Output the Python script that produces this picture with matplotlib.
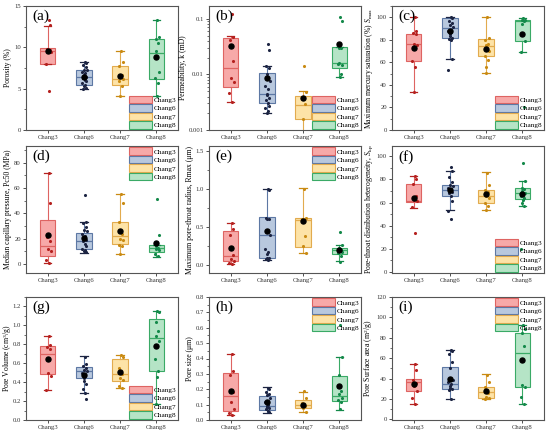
import numpy as np
import matplotlib
matplotlib.use("Agg")
import matplotlib.pyplot as plt
from matplotlib.patches import Patch
from matplotlib.ticker import AutoMinorLocator, LogLocator, NullFormatter, FormatStrFormatter

plt.rcParams['font.family'] = ['Liberation Serif', 'DejaVu Serif']
plt.rcParams['mathtext.fontset'] = 'custom'
plt.rcParams['mathtext.rm'] = 'Liberation Serif'
plt.rcParams['mathtext.it'] = 'Liberation Serif:italic'

groups = ["Chang3", "Chang6", "Chang7", "Chang8"]
face_cols = ['#F7A9A8', '#B8C8DE', '#FDE3A7', '#B5E4C6']
edge_cols = ['#DE6462', '#5D78A4', '#E2AB4E', '#3AAA66']
pt_cols = ['#B5211F', '#1C2442', '#C98A12', '#14894A']

# box stats per group: q1, median, q3, whisker low, whisker high, mean
porosity_box = [[8.0, 9.5, 9.9, 8.0, 12.6, 9.6], [5.5, 6.4, 7.2, 4.9, 8.2, 6.4],
                [5.5, 6.2, 7.7, 4.1, 9.5, 6.5], [6.2, 9.3, 11.0, 4.1, 13.3, 8.8]]
porosity_pts = [[13.3, 12.7, 9.8, 9.7, 9.5, 9.4, 8.0, 4.7],
                [8.2, 8.1, 7.9, 7.6, 7.3, 7.2, 7.0, 6.9, 6.7, 6.5, 6.4, 6.3, 6.1, 5.9, 5.7, 5.5, 5.3, 5.1, 4.9],
                [9.5, 8.2, 7.7, 6.7, 6.5, 6.2, 5.9, 5.3, 4.1],
                [13.3, 11.2, 11.0, 10.5, 9.5, 7.0, 6.3, 5.7, 4.1]]

perm_box = [[0.006, 0.013, 0.045, 0.0032, 0.05, 0.032], [0.0031, 0.0045, 0.0106, 0.0020, 0.0144, 0.0087],
            [0.0016, 0.00285, 0.0041, 0.0008, 0.005, 0.0037], [0.013, 0.0163, 0.0305, 0.0089, 0.0305, 0.035]]
perm_pts = [[0.123, 0.048, 0.0415, 0.0175, 0.0086, 0.0074, 0.0046, 0.0032],
            [0.035, 0.028, 0.0144, 0.013, 0.010, 0.0075, 0.0062, 0.0055, 0.0045, 0.0042,
             0.0038, 0.0035, 0.003, 0.0027, 0.0025, 0.0022, 0.002],
            [0.0141, 0.0048, 0.0038, 0.0029, 0.0016],
            [0.11, 0.09, 0.03, 0.03, 0.016, 0.015, 0.0155, 0.01, 0.009]]

smax_box = [[61.2, 76.7, 85.4, 33.7, 100, 73.1], [81.7, 90.1, 99.1, 63.3, 100, 88.0],
            [65.7, 74.6, 80.3, 50.4, 100, 72.2], [78.8, 97.0, 97.6, 69.3, 99, 85.0]]
smax_pts = [[100, 88, 86, 85.5, 76, 75, 61, 55.6, 33.7],
            [100, 99, 97, 95, 93, 91, 88, 87, 85, 83, 82, 81, 80, 63.3, 53],
            [100, 82, 80, 76, 75, 70, 66, 62, 56, 51],
            [99, 98, 97.5, 97, 94, 79, 69.3, 20]]

pc50_box = [[6.5, 14.5, 34.4, 0.5, 72, 23], [11.7, 18.1, 24.6, 8.5, 32.9, 20.5],
            [15.5, 21.8, 33.2, 8.3, 54.9, 26], [9.8, 13.0, 14.8, 5.7, 14.8, 17]]
pc50_pts = [[72, 48, 21, 18, 12, 10, 3.5, 0.5],
            [54.5, 33, 32, 29, 27, 26, 24, 22, 21, 20, 19, 18, 16, 14, 12, 11, 10, 9.5],
            [55, 48, 33, 24, 20, 19, 15, 14, 8.3],
            [51, 23, 14, 13, 12, 11, 8, 6]]

rmax_box = [[0.052, 0.126, 0.443, 0.022, 0.56, 0.23], [0.096, 0.396, 0.635, 0.074, 1.0, 0.448],
            [0.243, 0.596, 0.613, 0.16, 1.01, 0.574], [0.148, 0.196, 0.226, 0.052, 0.27, 0.20]]
rmax_pts = [[0.56, 0.47, 0.40, 0.13, 0.08, 0.06, 0.03, 0.02],
            [1.0, 0.99, 0.62, 0.61, 0.60, 0.40, 0.21, 0.18, 0.15, 0.10, 0.09, 0.08, 0.07],
            [1.0, 0.62, 0.60, 0.38, 0.25, 0.16],
            [0.44, 0.27, 0.23, 0.20, 0.19, 0.18, 0.16, 0.12, 0.05]]

skp_box = [[60.9, 61.5, 76.1, 55.5, 83.3, 64.2], [66.0, 71.0, 74.9, 53.4, 87.5, 70.5],
           [60.0, 66.0, 71.3, 54.0, 86.2, 67.0], [62.7, 68.0, 72.8, 57.0, 79.0, 67.0]]
skp_pts = [[83, 80, 76, 66, 62, 61, 56, 33.5],
           [90.7, 87, 82, 78, 75, 74, 73, 72, 71, 70, 69, 68, 66, 61, 53, 46],
           [86, 75, 71, 69, 66, 64, 60, 57, 54],
           [94, 79, 73, 72, 70, 68, 66, 64, 62, 60, 57, 20]]

pv_box = [[0.482, 0.694, 0.778, 0.317, 0.89, 0.64], [0.444, 0.518, 0.56, 0.285, 0.672, 0.48],
          [0.408, 0.486, 0.644, 0.338, 0.69, 0.507], [0.518, 0.866, 1.07, 0.169, 1.155, 0.78]]
pv_pts = [[0.89, 0.79, 0.77, 0.75, 0.50, 0.46, 0.32],
          [0.67, 0.59, 0.57, 0.55, 0.53, 0.52, 0.50, 0.47, 0.44, 0.41, 0.38, 0.33, 0.29, 0.22],
          [0.69, 0.67, 0.55, 0.49, 0.44, 0.42, 0.36, 0.34],
          [1.15, 1.14, 1.04, 0.94, 0.89, 0.83, 0.65, 0.52, 0.45, 0.17]]

psize_box = [[0.0586, 0.154, 0.306, 0.035, 0.43, 0.189], [0.067, 0.093, 0.158, 0.046, 0.215, 0.115],
             [0.08, 0.098, 0.132, 0.054, 0.184, 0.10], [0.124, 0.156, 0.288, 0.067, 0.41, 0.223]]
psize_pts = [[0.43, 0.32, 0.29, 0.18, 0.12, 0.07, 0.045, 0.035],
             [0.21, 0.20, 0.18, 0.17, 0.16, 0.14, 0.12, 0.10, 0.09, 0.085, 0.08, 0.07, 0.06, 0.05],
             [0.19, 0.14, 0.11, 0.09, 0.08, 0.055],
             [0.62, 0.41, 0.29, 0.19, 0.17, 0.14, 0.13, 0.12, 0.07]]

psa_box = [[27.7, 37.1, 39.4, 15.5, 54.2, 34.5], [30.0, 34.5, 51.6, 20.3, 68.4, 40.0],
           [21.0, 27.1, 32.3, 20.3, 44.2, 28.0], [31.9, 65.2, 84.5, 15.5, 92.6, 58.7]]
psa_pts = [[54, 48, 39, 36, 33, 28, 21, 15],
           [68, 67, 64, 56, 50, 39, 37, 35, 33, 31, 30, 29, 20],
           [44, 37, 32, 26, 22, 21, 20],
           [93, 89, 85, 72, 34, 32, 22, 15]]

# y tick values per panel
ticks_a = [0, 5, 10, 15]
ticks_b = [0.001, 0.01, 0.1]
ticks_c = [0, 20, 40, 60, 80, 100]
ticks_d = [0, 20, 40, 60, 80]
ticks_e = [0.0, 0.5, 1.0, 1.5]
ticks_f = [0, 20, 40, 60, 80, 100]
ticks_g = [0.0, 0.2, 0.4, 0.6, 0.8, 1.0, 1.2]
ticks_h = [0.0, 0.1, 0.2, 0.3, 0.4, 0.5, 0.6, 0.7, 0.8]
ticks_i = [0, 20, 40, 60, 80, 100, 120]

panels = [
    ("(a)", porosity_box, porosity_pts, "Porosity (%)", (0, 15), ticks_a, '%d', "lower right"),
    ("(b)", perm_box, perm_pts, "Permeability, k (mD)", (0.001, 0.17), ticks_b, None, "lower right"),
    ("(c)", smax_box, smax_pts, "Maximum mercury saturation (%) $S_{\\rm max}$", (0, 110), ticks_c, '%d', "lower right"),
    ("(d)", pc50_box, pc50_pts, "Median capillary pressure, Pc50 (MPa)", (-7, 93), ticks_d, '%d', "upper right"),
    ("(e)", rmax_box, rmax_pts, "Maximum pore-throat radius, Rmax (μm)", (-0.1, 1.56), ticks_e, '%.1f', "upper right"),
    ("(f)", skp_box, skp_pts, "Pore-throat distribution heterogeneity, $S_{\\rm kp}$", (-1, 109), ticks_f, '%d', "lower right"),
    ("(g)", pv_box, pv_pts, "Pore Volume (cm$^3$/g)", (0, 1.3), ticks_g, '%.1f', "lower right"),
    ("(h)", psize_box, psize_pts, "Pore size (μm)", (0, 0.8), ticks_h, '%.1f', "upper right"),
    ("(i)", psa_box, psa_pts, "Pore Surface area (m$^2$/g)", (-0.5, 120), ticks_i, '%d', "upper right"),
]

# horizontal spread of the scatter points (display only)
jitter = [0.03, 0.07, -0.02, 0.05, 0.0, 0.08, -0.04, 0.04, 0.01, -0.01, 0.06,
          -0.03, 0.02, 0.07, -0.05, 0.03, 0.0, 0.05, -0.02]

col_left = [26, 209, 392]
row_box = [(6, 130), (146, 273), (297, 420)]
W, H = 550, 434

fig = plt.figure(figsize=(5.5, 4.34), dpi=100)
pos = [1, 2, 3, 4]

for k, (lab, box, pts, ylab, ylim, yt, fmt, legloc) in enumerate(panels):
    r, c = divmod(k, 3)
    top, bot = row_box[r]
    ax = fig.add_axes([col_left[c] / W, 1 - bot / H, 152 / W, (bot - top) / H])
    stats = []
    for g, b in zip(groups, box):
        stats.append(dict(q1=b[0], med=b[1], q3=b[2], whislo=b[3], whishi=b[4],
                          mean=b[5], fliers=[], label=g))
    bp = ax.bxp(stats, positions=pos, widths=0.42, patch_artist=True,
                showmeans=True, capwidths=0.2,
                meanprops=dict(marker='o', markerfacecolor='black', markeredgecolor='black',
                               markersize=3.6), zorder=2)
    for i in range(4):
        bp['boxes'][i].set_facecolor(face_cols[i])
        bp['boxes'][i].set_edgecolor(edge_cols[i])
        bp['boxes'][i].set_linewidth(0.8)
        bp['medians'][i].set_color(edge_cols[i])
        bp['medians'][i].set_linewidth(0.9)
        for j in (2 * i, 2 * i + 1):
            bp['whiskers'][j].set_color(edge_cols[i])
            bp['whiskers'][j].set_linewidth(0.8)
            bp['caps'][j].set_color(pt_cols[i])
            bp['caps'][j].set_linewidth(0.9)
        vals = pts[i]
        xs = [pos[i] + jitter[n % len(jitter)] for n in range(len(vals))]
        ax.scatter(xs, vals, s=5, color=pt_cols[i], zorder=3, linewidths=0)
        bp['means'][i].set_zorder(4)

    if lab == "(b)":
        ax.set_yscale('log')
        ax.yaxis.set_minor_locator(LogLocator(base=10, subs=np.arange(2, 10)))
        ax.yaxis.set_minor_formatter(NullFormatter())
        ax.set_yticks(yt)
        ax.set_yticklabels(["0.001", "0.01", "0.1"])
    else:
        ax.set_yticks(yt)
        ax.yaxis.set_major_formatter(FormatStrFormatter(fmt))
        ax.yaxis.set_minor_locator(AutoMinorLocator(2))
    ax.set_ylim(*ylim)
    ax.set_xlim(0.4, 4.6)
    ax.set_xticks(pos)
    ax.set_xticklabels(groups)
    ax.tick_params(axis='both', direction='out', labelsize=4.8, length=2.2, width=0.6,
                   colors='#333333', pad=1.5)
    ax.tick_params(axis='y', which='minor', direction='out', length=1.3, width=0.5, colors='#333333')
    for s in ax.spines.values():
        s.set_color('#555555')
        s.set_linewidth(0.8)
    ax.set_ylabel(ylab, fontsize=5.5, labelpad=1.2)
    if lab == "(g)":
        ax.yaxis.set_label_coords(-0.08, 0.5)
    ax.text(0.04, 0.97, lab, transform=ax.transAxes, fontsize=11, va='top', ha='left')

    handles = [Patch(facecolor=face_cols[i], edgecolor=edge_cols[i], linewidth=0.8)
               for i in range(4)]
    ax.legend(handles, groups, loc=legloc, fontsize=5.2, frameon=False,
              handlelength=3.2, handleheight=1.2, handletextpad=0.2,
              labelspacing=0.15, borderaxespad=0.1, borderpad=0.1)

fig.savefig("out.png", dpi=100)
